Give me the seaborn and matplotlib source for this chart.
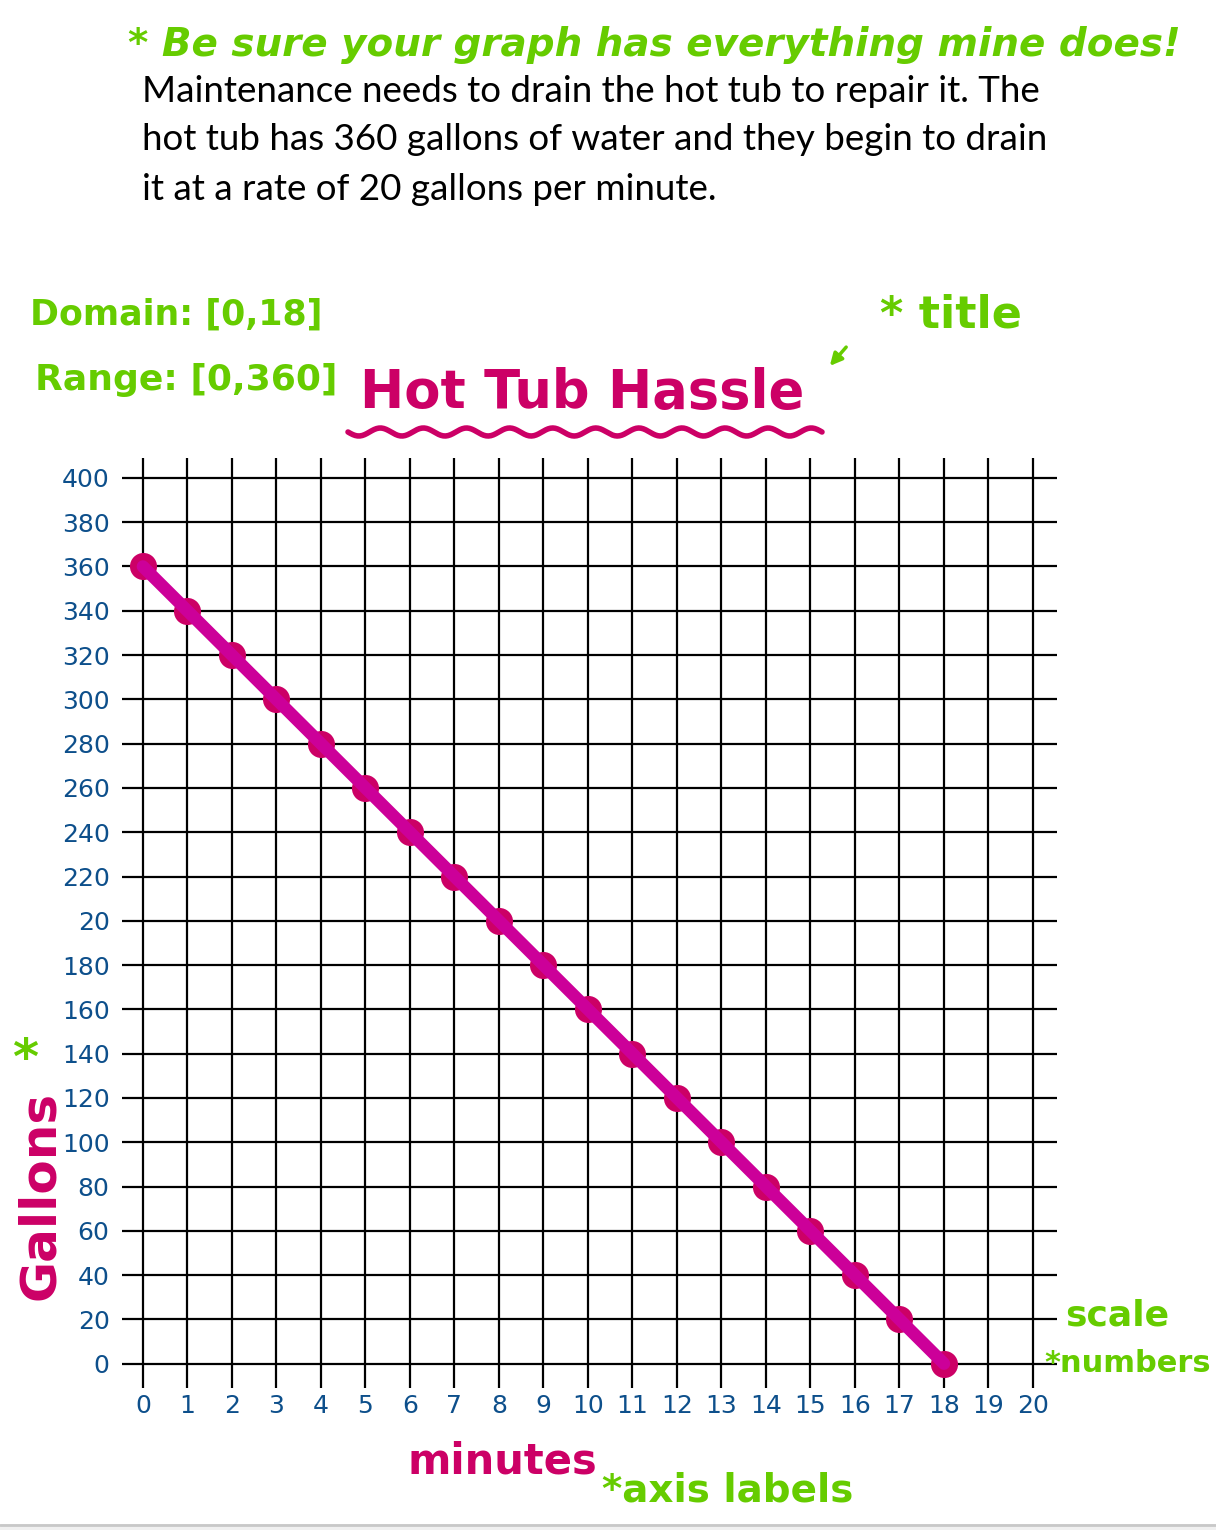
import matplotlib
matplotlib.use("Agg")
import matplotlib.pyplot as plt
import seaborn as sns
import numpy as np
import pandas as pd
from matplotlib.lines import Line2D
from matplotlib.patches import Rectangle, FancyArrowPatch

# data read from the worksheet
minutes = [0, 1, 2, 3, 4, 5, 6, 7, 8, 9, 10, 11, 12, 13, 14, 15, 16, 17, 18]
gallons = [360, 340, 320, 300, 280, 260, 240, 220, 200, 180, 160, 140, 120, 100, 80, 60, 40, 20, 0]
x_ticks = list(range(0, 21))
x_tick_labels = [str(v) for v in x_ticks]
y_ticks = list(range(0, 401, 20))
y_tick_labels = ["0", "20", "40", "60", "80", "100", "120", "140", "160", "180", "20",
                 "220", "240", "260", "280", "300", "320", "340", "360", "380", "400"]

problem_lines = [
    "Maintenance needs to drain the hot tub to repair it. The",
    "hot tub has 360 gallons of water and they begin to drain",
    "it at a rate of 20 gallons per minute.",
]

GREEN = "#66cc00"
MAGENTA = "#cc0066"
LINE_COL = "#cc0099"
BLUE = "#0d4f8b"

W, H = 1216, 1530


def fx(px):
    return px / W


def fy(py):
    return 1 - py / H


sns.set_theme(style="white")
fig = plt.figure(figsize=(W / 100, H / 100), dpi=100)
fig.patch.set_facecolor("white")

ax = fig.add_axes([fx(122), fy(1388), fx(1057) - fx(122), fy(458) - fy(1388)])
df = pd.DataFrame({"minutes": minutes, "gallons": gallons})

# dots first, thick line over them
sns.scatterplot(data=df, x="minutes", y="gallons", ax=ax, s=380, color=MAGENTA,
                edgecolor=MAGENTA, linewidth=0, zorder=3)
sns.lineplot(data=df, x="minutes", y="gallons", ax=ax, color=LINE_COL,
             linewidth=9, zorder=4, solid_capstyle="round")

ax.set_xlim(-0.47, 20.54)
ax.set_ylim(-11, 409)
ax.set_xticks(x_ticks)
ax.set_xticklabels(x_tick_labels)
ax.set_yticks(y_ticks)
ax.set_yticklabels(y_tick_labels)
ax.grid(True, color="black", linewidth=1.6)
ax.set_axisbelow(True)
for s in ax.spines.values():
    s.set_visible(False)
ax.tick_params(axis="both", length=0, labelcolor=BLUE, labelsize=18)
ax.tick_params(axis="y", pad=9)
ax.tick_params(axis="x", pad=4)
ax.set_xlabel("")
ax.set_ylabel("")

# problem statement
for i, line in enumerate(problem_lines):
    fig.text(fx(142), fy(91 + 49 * i), line, fontsize=26.5, family="Lato",
             color="black", ha="left", va="center")

# green teacher notes
fig.text(fx(128), fy(45), "* Be sure your graph has everything mine does!", fontsize=28,
         fontweight="bold", color=GREEN, ha="left", va="center", style="italic")
fig.text(fx(30), fy(315), "Domain: [0,18]", fontsize=25, fontweight="bold",
         color=GREEN, ha="left", va="center")
fig.text(fx(35), fy(380), "Range: [0,360]", fontsize=26, fontweight="bold",
         color=GREEN, ha="left", va="center")
fig.text(fx(880), fy(315), "* title", fontsize=32, fontweight="bold",
         color=GREEN, ha="left", va="center")
fig.add_artist(FancyArrowPatch(
    (fx(848), fy(345)), (fx(828), fy(368)), transform=fig.transFigure,
    arrowstyle="-|>", mutation_scale=18, color=GREEN, linewidth=2.5))
fig.text(fx(1117), fy(1315), "scale", fontsize=26, fontweight="bold",
         color=GREEN, ha="center", va="center")
fig.text(fx(1128), fy(1363), "*numbers", fontsize=22, fontweight="bold",
         color=GREEN, ha="center", va="center")
fig.text(fx(25), fy(1060), "*", fontsize=36, fontweight="bold",
         color=GREEN, ha="center", va="center")
fig.text(fx(728), fy(1490), "*axis labels", fontsize=28, fontweight="bold",
         color=GREEN, ha="center", va="center")

# title + wavy underline
fig.text(fx(582), fy(393), "Hot Tub Hassle", fontsize=38, fontweight="bold",
         color=MAGENTA, ha="center", va="center")
wx = np.linspace(348, 822, 200)
wy = 432 + 4 * np.sin((wx - 348) / 474 * 2 * np.pi * 11)
fig.add_artist(Line2D(fx(wx), fy(wy), transform=fig.transFigure, color=MAGENTA,
                      linewidth=4, solid_capstyle="round"))

# axis labels
fig.text(fx(502), fy(1462), "minutes", fontsize=30, fontweight="bold",
         color=MAGENTA, ha="center", va="center")
fig.text(fx(40), fy(1195), "Gallons", fontsize=36, fontweight="bold",
         color=MAGENTA, ha="center", va="center", rotation=90)

# page edge at the bottom
fig.add_artist(Rectangle((0, 0), 1, fy(1524), transform=fig.transFigure,
                         facecolor="#f0f0f0", edgecolor="none"))
fig.add_artist(Line2D([0, 1], [fy(1525), fy(1525)], transform=fig.transFigure,
                      color="#c8c8c8", linewidth=2))

fig.savefig("out.png", dpi=100)
